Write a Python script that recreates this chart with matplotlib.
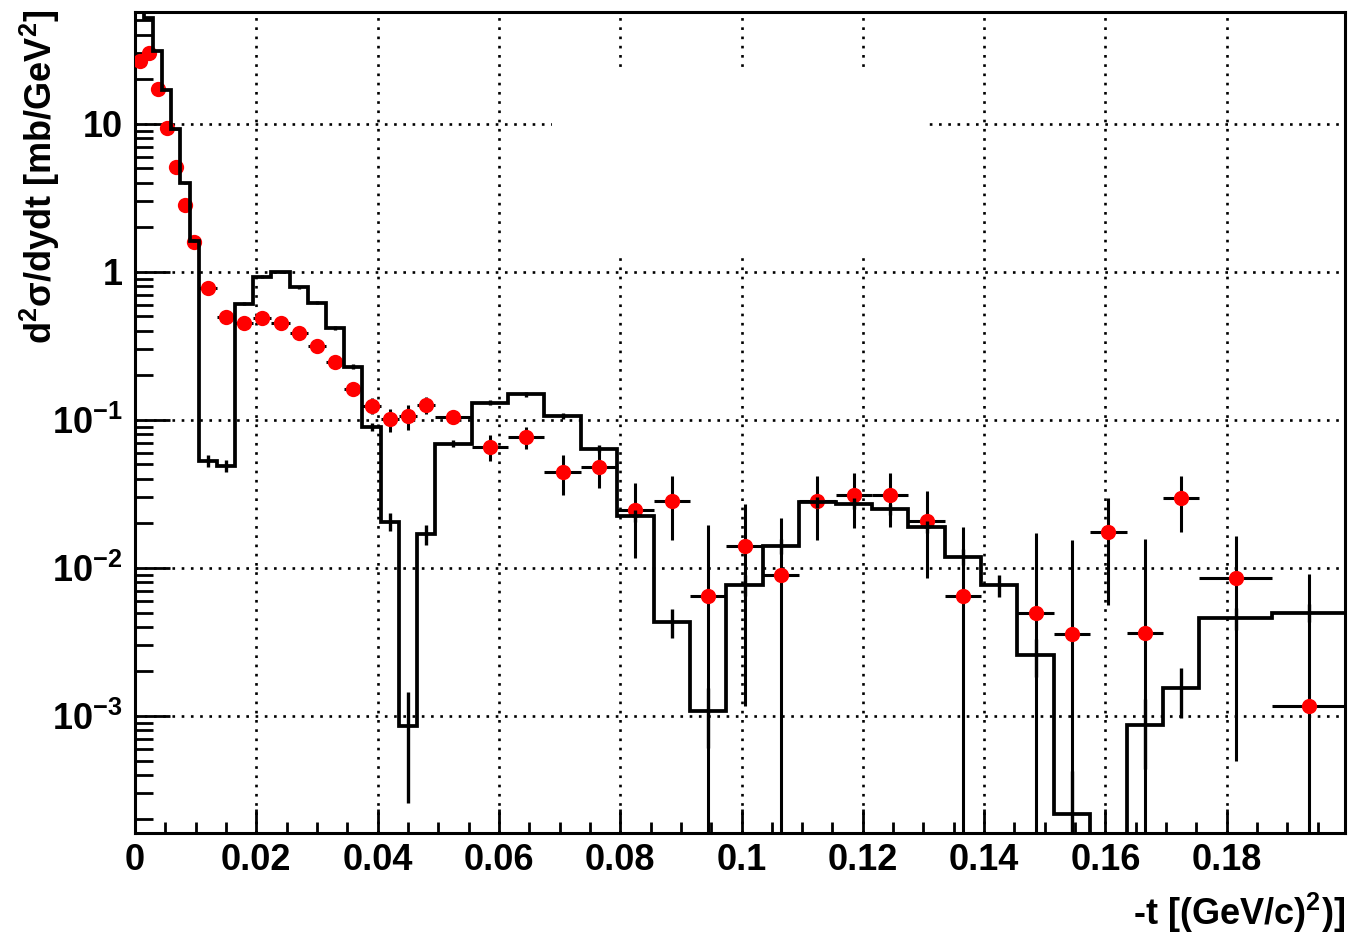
import numpy as np
import matplotlib
matplotlib.use('Agg')
import matplotlib.pyplot as plt
from matplotlib import font_manager
from matplotlib.ticker import FixedLocator, FixedFormatter, MultipleLocator, LogLocator, NullFormatter
from matplotlib.patches import Rectangle

# bin edges in -t (GeV/c)^2, variable binning
edges = [0, 0.0015, 0.003, 0.0045, 0.006, 0.0075, 0.009, 0.0105,
         0.0135, 0.0165, 0.0195, 0.0225, 0.0255, 0.0285, 0.0315, 0.0345,
         0.0375, 0.0405, 0.0435, 0.0465, 0.0495,
         0.0555, 0.0615, 0.0675, 0.0735, 0.0795, 0.0855, 0.0915, 0.0975,
         0.1035, 0.1095, 0.1155, 0.1215, 0.1275, 0.1335, 0.1395, 0.1455,
         0.1515, 0.1575, 0.1635, 0.1695, 0.1755, 0.1875, 0.1995]

# black histogram (model)
hist_vals = [60, 52, 31, 17, 9.2, 4.0, 1.63,
             0.053, 0.0489, 0.61, 0.93, 1.0, 0.79, 0.62, 0.42,
             0.229, 0.090, 0.0206, 0.00086, 0.017,
             0.069, 0.131, 0.149, 0.106, 0.064, 0.0224, 0.0043, 0.00108,
             0.0077, 0.0141, 0.0278, 0.0272, 0.0250, 0.019, 0.0119, 0.0077,
             0.00258, 0.000217, 1e-6, 0.00087, 0.00154, 0.0046, 0.0050]
hist_errs = [0.22, 0.2, 0.16, 0.12, 0.086, 0.057, 0.036,
             0.0046, 0.0044, 0.016, 0.019, 0.02, 0.018, 0.016, 0.013,
             0.0096, 0.006, 0.0028, 0.0006, 0.0026,
             0.0037, 0.0051, 0.0055, 0.0046, 0.0036, 0.0021, 0.00095, 0.00047,
             0.0012, 0.0016, 0.0024, 0.0023, 0.0022, 0.0019, 0.0015, 0.0013,
             0.00075, 0.00021, 0.0, 0.00043, 0.00057, 0.0008, 0.0007]

# red data points (nan = no point)
data_vals = [26.4, 30.0, 17.2, 9.44, 5.09, 2.84, 1.60,
             0.783, 0.499, 0.454, 0.491, 0.450, 0.389, 0.318, 0.248,
             0.161, 0.125, 0.101, 0.106, 0.126,
             0.105, 0.066, 0.0764, 0.0448, 0.0484, 0.0247, 0.0285, 0.00647,
             0.01416, 0.00893, 0.0285, 0.031, 0.0313, 0.0208, 0.0065, np.nan,
             0.00494, 0.00356, 0.0176, 0.00366, 0.0296, 0.0085, 0.00116]
data_errs = [0.8, 0.9, 0.6, 0.4, 0.25, 0.15, 0.1,
             0.02, 0.016, 0.015, 0.015, 0.015, 0.015, 0.015, 0.015,
             0.015, 0.015, 0.018, 0.02, 0.017,
             0.011, 0.013, 0.013, 0.0135, 0.0135, 0.013, 0.013, 0.013,
             0.013, 0.0128, 0.013, 0.0125, 0.0125, 0.0123, 0.0123, np.nan,
             0.0122, 0.012, 0.012, 0.012, 0.012, 0.008, 0.0079]

xtick_vals = [0, 0.02, 0.04, 0.06, 0.08, 0.1, 0.12, 0.14, 0.16, 0.18]
xtick_labels = ['0', '0.02', '0.04', '0.06', '0.08', '0.1', '0.12', '0.14', '0.16', '0.18']
ytick_vals = [1e-3, 1e-2, 1e-1, 1, 10]
ytick_labels = ['10$^{-3}$', '10$^{-2}$', '10$^{-1}$', '1', '10']

names = {f.name for f in font_manager.fontManager.ttflist}
if 'Liberation Sans Narrow' in names:
    font, fs = 'Liberation Sans Narrow', 28
else:
    font, fs = 'Liberation Sans', 26

plt.rcParams['font.family'] = [font, 'DejaVu Sans']
plt.rcParams['font.weight'] = 'bold'
plt.rcParams['mathtext.fontset'] = 'custom'
plt.rcParams['mathtext.rm'] = font + ':bold'
plt.rcParams['mathtext.it'] = font + ':bold'
plt.rcParams['mathtext.bf'] = font + ':bold'

edges = np.array(edges)
hist_vals = np.array(hist_vals)
hist_errs = np.array(hist_errs)
data_vals = np.array(data_vals)
data_errs = np.array(data_errs)
centers = (edges[:-1] + edges[1:]) / 2
halfw = (edges[1:] - edges[:-1]) / 2

fig = plt.figure(figsize=(13.48, 9.34), dpi=100)
ax = fig.add_axes([135/1348, 1 - 833/934, 1210/1348, 821/934])
ax.set_yscale('log')

# data points with errors
ok = ~np.isnan(data_vals)
lo = np.minimum(data_errs[ok], data_vals[ok] - 1e-8)
ax.errorbar(centers[ok], data_vals[ok], xerr=halfw[ok], yerr=[lo, data_errs[ok]],
            fmt='none', ecolor='k', elinewidth=2.2, capsize=0, zorder=2)
ax.plot(centers[ok], data_vals[ok], 'o', color='red', markersize=11,
        markeredgewidth=0, zorder=3)

# histogram
ax.stairs(hist_vals, edges, color='k', linewidth=2.7, baseline=None, zorder=4)
hlo = np.minimum(hist_errs, hist_vals - 1e-8)
ax.errorbar(centers, hist_vals, yerr=[hlo, hist_errs], fmt='none', ecolor='k',
            elinewidth=2.4, capsize=0, zorder=4)

# empty white box (legend area) covering the grid
ax.add_patch(Rectangle((0.3446, 0.704), 0.31, 0.223, transform=ax.transAxes,
                       facecolor='white', edgecolor='none', zorder=1))

ax.set_xlim(0, 0.1995)
ax.set_ylim(1.62e-4, 57)

ax.xaxis.set_major_locator(FixedLocator(xtick_vals))
ax.xaxis.set_major_formatter(FixedFormatter(xtick_labels))
ax.xaxis.set_minor_locator(MultipleLocator(0.005))
ax.yaxis.set_major_locator(FixedLocator(ytick_vals))
ax.yaxis.set_major_formatter(FixedFormatter(ytick_labels))
ax.yaxis.set_minor_locator(LogLocator(base=10, subs=np.arange(2, 10)))
ax.yaxis.set_minor_formatter(NullFormatter())

ax.tick_params(axis='x', which='major', direction='in', length=17, width=2,
               top=False, pad=7, labelsize=fs)
ax.tick_params(axis='x', which='minor', direction='in', length=8, width=2, top=False)
ax.tick_params(axis='y', which='major', direction='in', length=25, width=2,
               right=False, pad=9, labelsize=fs)
ax.tick_params(axis='y', which='minor', direction='in', length=13, width=2, right=False)

ax.set_axisbelow(True)
ax.grid(True, which='major', color='k', linestyle=(0, (1, 2.5)), linewidth=1.9)
for s in ax.spines.values():
    s.set_linewidth(2.2)

fig.text(1345/1348, 1 - 913/934, '-t [(GeV/c)$^{2}$)]', ha='right', va='center',
         fontsize=fs, fontweight='bold')
fig.text(40/1348, 1 - 10/934, 'd$^{2}$σ/dydt [mb/GeV$^{2}$]', rotation=90,
         ha='center', va='top', fontsize=fs, fontweight='bold')

fig.savefig('out.png', dpi=100)
